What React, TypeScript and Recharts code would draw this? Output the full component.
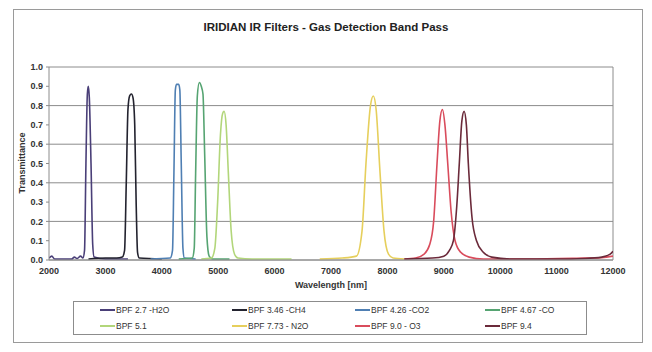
import React from "react";
import {
  LineChart,
  Line,
  XAxis,
  YAxis,
  CartesianGrid,
  ReferenceLine,
} from "recharts";

// wavelength [nm], transmittance
const h2o27 = [
  [2000, 0.01], [2050, 0.02], [2100, 0.005], [2400, 0.005], [2450, 0.015],
  [2500, 0.008], [2560, 0.02], [2600, 0.01], [2630, 0.05], [2655, 0.5],
  [2680, 0.86], [2697, 0.9], [2715, 0.84], [2745, 0.5], [2775, 0.08],
  [2800, 0.015], [3000, 0.005], [3400, 0.005],
];
const ch4346 = [
  [2700, 0.005], [3000, 0.01], [3200, 0.01], [3300, 0.015], [3340, 0.05],
  [3370, 0.4], [3400, 0.78], [3430, 0.85], [3462, 0.86], [3490, 0.84],
  [3520, 0.7], [3545, 0.3], [3570, 0.04], [3600, 0.01], [4000, 0.005],
];
const co2426 = [
  [3800, 0.005], [4150, 0.01], [4190, 0.05], [4215, 0.45], [4240, 0.88],
  [4260, 0.91], [4300, 0.91], [4320, 0.88], [4345, 0.5], [4375, 0.06],
  [4400, 0.01], [4600, 0.005],
];
const co467 = [
  [4300, 0.005], [4540, 0.01], [4575, 0.06], [4600, 0.45], [4630, 0.85],
  [4665, 0.92], [4700, 0.9], [4730, 0.86], [4760, 0.55], [4800, 0.12],
  [4840, 0.02], [4900, 0.005], [5200, 0.005],
];
const bpf51 = [
  [4700, 0.005], [4880, 0.01], [4940, 0.06], [4990, 0.3], [5040, 0.65],
  [5080, 0.76], [5105, 0.77], [5140, 0.7], [5180, 0.45], [5230, 0.15],
  [5290, 0.03], [5350, 0.01], [5600, 0.005], [6300, 0.005],
];
const n2o773 = [
  [6800, 0.005], [7200, 0.01], [7450, 0.02], [7550, 0.15], [7620, 0.5],
  [7700, 0.8], [7750, 0.85], [7800, 0.78], [7870, 0.45], [7940, 0.15],
  [8020, 0.03], [8100, 0.01], [8300, 0.005],
];
const o390 = [
  [8300, 0.005], [8500, 0.01], [8650, 0.03], [8750, 0.08], [8820, 0.2],
  [8880, 0.5], [8930, 0.72], [8975, 0.78], [9020, 0.7], [9070, 0.5],
  [9130, 0.25], [9200, 0.1], [9300, 0.04], [9450, 0.015], [9700, 0.005],
  [10500, 0.005], [11500, 0.01], [11800, 0.012], [12000, 0.02],
];
const bpf94 = [
  [8300, 0.005], [8800, 0.01], [9000, 0.02], [9100, 0.05], [9170, 0.1],
  [9230, 0.28], [9275, 0.5], [9320, 0.72], [9360, 0.77], [9400, 0.7],
  [9435, 0.5], [9500, 0.22], [9580, 0.1], [9700, 0.04], [9850, 0.015],
  [10200, 0.005], [11000, 0.005], [11500, 0.008], [11800, 0.015],
  [11950, 0.03], [12000, 0.045],
];

const xTicks = [2000, 3000, 4000, 5000, 6000, 7000, 8000, 9000, 10000, 11000, 12000];
const yTicks = [0, 0.1, 0.2, 0.3, 0.4, 0.5, 0.6, 0.7, 0.8, 0.9, 1.0];

const series = [
  { name: "BPF 2.7 -H2O", points: h2o27, color: "#4a3f78" },
  { name: "BPF 3.46 -CH4", points: ch4346, color: "#23232f" },
  { name: "BPF 4.26 -CO2", points: co2426, color: "#4f7fb3" },
  { name: "BPF 4.67 -CO", points: co467, color: "#56a472" },
  { name: "BPF 5.1", points: bpf51, color: "#b2d67a" },
  { name: "BPF 7.73 - N2O", points: n2o773, color: "#e6cf5c" },
  { name: "BPF 9.0 - O3", points: o390, color: "#d94c5c" },
  { name: "BPF 9.4", points: bpf94, color: "#6b2a3a" },
];

const FONT = "'Liberation Sans', Arial, sans-serif";
const legendCols = [100, 232, 355, 485];

export default function App() {
  return (
    <div
      style={{
        position: "absolute",
        left: 0,
        top: 0,
        width: 652,
        height: 352,
        background: "#fff",
        fontFamily: FONT,
      }}
    >
      {/* outer frame */}
      <div
        style={{
          position: "absolute",
          left: 13,
          top: 9,
          width: 628,
          height: 332,
          border: "1px solid #9a9a9a",
        }}
      />
      <div
        style={{
          position: "absolute",
          left: 0,
          width: 652,
          top: 21,
          textAlign: "center",
          fontSize: 11.5,
          fontWeight: 700,
          color: "#222",
        }}
      >
        IRIDIAN IR Filters - Gas Detection Band Pass
      </div>

      <LineChart
        width={652}
        height={352}
        margin={{ top: 67, right: 39, bottom: 62, left: 9 }}
        style={{ position: "absolute", left: 0, top: 0 }}
      >
        <CartesianGrid vertical={false} stroke="#8c8c8c" />
        <XAxis
          type="number"
          dataKey="x"
          domain={[2000, 12000]}
          ticks={xTicks}
          allowDataOverflow
          height={30}
          tickLine={false}
          axisLine={{ stroke: "#8c8c8c" }}
          tick={{ fontSize: 9, fontWeight: 700, fill: "#333", fontFamily: FONT }}
        />
        <YAxis
          type="number"
          domain={[0, 1]}
          ticks={yTicks}
          width={40}
          tickSize={3}
          tickMargin={3}
          tickFormatter={(v: number) => v.toFixed(1)}
          axisLine={{ stroke: "#8c8c8c" }}
          tickLine={{ stroke: "#8c8c8c" }}
          tick={{ fontSize: 9, fontWeight: 700, fill: "#333", fontFamily: FONT }}
        />
        <ReferenceLine x={12000} stroke="#8c8c8c" />
        {series.map((s) => (
          <Line
            key={s.name}
            name={s.name}
            data={s.points.map(([x, y]) => ({ x, y }))}
            dataKey="y"
            type="monotone"
            stroke={s.color}
            strokeWidth={1.6}
            dot={false}
            isAnimationActive={false}
          />
        ))}
      </LineChart>

      <div
        style={{
          position: "absolute",
          left: 15,
          top: 163,
          transform: "translate(-50%, -50%) rotate(-90deg)",
          transformOrigin: "center",
          fontSize: 9,
          fontWeight: 700,
          color: "#333",
          whiteSpace: "nowrap",
          marginLeft: 7,
        }}
      >
        Transmittance
      </div>
      <div
        style={{
          position: "absolute",
          left: 281,
          width: 100,
          top: 280,
          textAlign: "center",
          fontSize: 9,
          fontWeight: 700,
          color: "#333",
        }}
      >
        Wavelength [nm]
      </div>

      {/* legend */}
      <div
        style={{
          position: "absolute",
          left: 73,
          top: 301,
          width: 512,
          height: 32,
          border: "1px solid #8c8c8c",
        }}
      />
      {series.map((s, i) => {
        const col = i % 4;
        const row = Math.floor(i / 4);
        return (
          <div
            key={s.name}
            style={{
              position: "absolute",
              left: legendCols[col],
              top: 304 + row * 16,
              height: 11,
              display: "flex",
              alignItems: "center",
              fontSize: 8.5,
              color: "#333",
              whiteSpace: "nowrap",
            }}
          >
            <span
              style={{
                display: "inline-block",
                width: 15,
                height: 2,
                background: s.color,
                marginRight: 1,
              }}
            />
            {s.name}
          </div>
        );
      })}
    </div>
  );
}
